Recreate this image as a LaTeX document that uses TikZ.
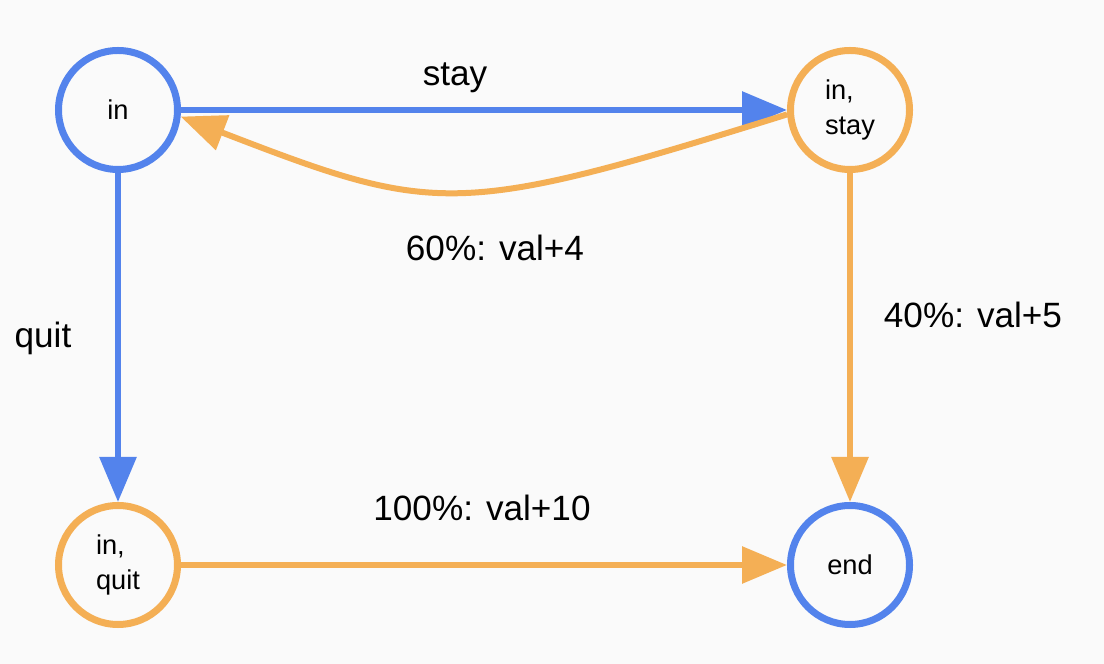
\documentclass[tikz,border=0pt]{standalone}
\usepackage{fontspec}
\setmainfont{Liberation Sans}
\usetikzlibrary{arrows.meta}
\definecolor{blu}{HTML}{5383EC}
\definecolor{org}{HTML}{F4AF55}
\definecolor{bg}{HTML}{FAFAFA}
\tikzset{sc/.style={x=.2mm,y=-.2mm,line width=1.2mm},
  st/.style={circle,line width=1.4mm,fill=bg,minimum size=23.8mm,inner sep=0pt,align=left,font=\fontsize{15.5}{20}\selectfont},
  lb/.style={font=\fontsize{20}{24}\selectfont},
  tip/.style={-{Triangle[length=9mm,width=7.2mm]}}}
\begin{document}
\begin{tikzpicture}[sc]
  \fill[bg] (0,0) rectangle (1104,664);
  \node[st,draw=blu] (in) at (118,110){in};\node[st,draw=org] (instay) at (850,110){in,\\stay};
  \node[st,draw=org] (inquit) at (118,565){in,\\quit};\node[st,draw=blu] (end) at (850,565){end};
  \draw[blu,tip] (in)--(instay);\node[lb] (lstay) at (455,78){stay};
  \draw[org,tip] (instay.184) .. controls (455,218) and (436,215) .. (in.-6);\node[lb] (lback) at (495,248){60\%: val+4};
  \draw[blu,tip] (in)--(inquit);\node[lb] (lquit) at (43,338){quit};
  \draw[org,tip] (instay)--(end);\node[lb] (lgo) at (973,315){40\%: val+5};
  \draw[org,tip] (inquit)--(end);\node[lb] (lend) at (482,508){100\%: val+10};
\end{tikzpicture}
\end{document}
